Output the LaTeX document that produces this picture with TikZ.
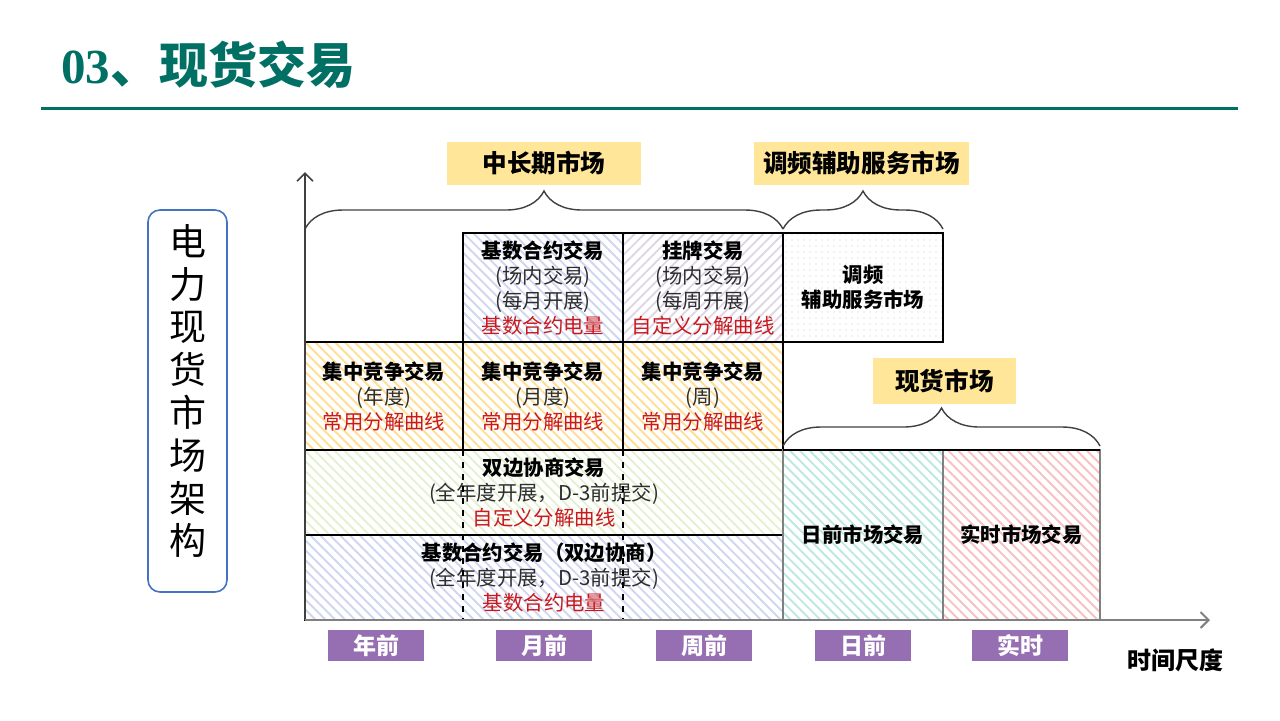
\documentclass[tikz,border=0pt]{standalone}
\usepackage{fontspec}
\setmainfont{Noto Sans CJK SC}
\newfontfamily\titleserif{Liberation Serif}
\usetikzlibrary{patterns.meta,decorations.pathreplacing,arrows.meta}
\definecolor{teal1}{RGB}{0,112,100}
\definecolor{lab}{RGB}{255,230,153}
\definecolor{purp}{RGB}{150,110,178}
\definecolor{redt}{RGB}{200,25,30}
\definecolor{subt}{RGB}{45,45,45}
\definecolor{hblue}{RGB}{206,214,242}
\definecolor{hlav}{RGB}{222,214,230}
\definecolor{horange}{RGB}{255,222,145}
\definecolor{hgreen}{RGB}{228,240,208}
\definecolor{hteal}{RGB}{188,232,222}
\definecolor{hpink}{RGB}{248,192,192}
\definecolor{hdot}{RGB}{195,195,195}
\definecolor{boxblue}{RGB}{68,114,196}
\definecolor{axisgrey}{RGB}{128,128,128}
\definecolor{bracegrey}{RGB}{64,64,64}
\begin{document}
\begin{tikzpicture}[x=0.5pt,y=-0.5pt,
  cell/.style={draw=black, line width=0.8pt, align=center, inner sep=0pt, outer sep=0pt,
    font=\fontsize{10.2pt}{12.5pt}\selectfont},
  hatch/.style 2 args={pattern={Lines[angle=#1,distance=3.5pt,line width=0.95pt]}, pattern color=#2},
  dotfill/.style={pattern={Dots[distance=3pt,radius=0.35pt]}, pattern color=hdot},
  lbl/.style={fill=lab, inner sep=0pt, font=\fontsize{12.3pt}{14pt}\selectfont\bfseries},
  pbox/.style={fill=purp, text=white, inner sep=0pt, minimum width=48pt, minimum height=15.5pt,
    font=\fontsize{11.5pt}{13pt}\selectfont\bfseries},
  bracestyle/.style={draw=bracegrey, line width=0.7pt, decorate, decoration={brace, amplitude=19pt}},
  axisline/.style={draw=axisgrey, line width=1pt, -{Straight Barb[length=4pt,width=8pt]}},
]
\useasboundingbox (0,0) rectangle (1280,720);

% title
\node[anchor=west, inner sep=0pt, text=teal1, font=\fontsize{24.5pt}{27pt}\selectfont\bfseries] (title) at (61,65)
  {{\titleserif 03}、现货交易};
\coordinate (rl) at (41,108);
\coordinate (rr) at (1238,108);
\draw[teal1, line width=1.5pt] (rl) -- (rr);

% left vertical box
\node[draw=boxblue, line width=0.8pt, rounded corners=6pt, minimum width=39.5pt, minimum height=191pt, inner sep=0pt] (vbox) at (187.5,401) {};
\node[align=center, inner sep=0pt, font=\fontsize{18.5pt}{21.4pt}\selectfont] (vtext) at (187.5,391)
  {电\\力\\现\\货\\市\\场\\架\\构};

% cells
\node[cell, hatch={-45}{hblue}, minimum width=80pt, minimum height=54.5pt] (c12) at (543,287.5)
  {{\bfseries 基数合约交易}\\{\color{subt}(场内交易)}\\{\color{subt}(每月开展)}\\{\color{redt}基数合约电量}};
\node[cell, hatch={45}{hlav}, minimum width=80pt, minimum height=54.5pt] (c13) at (703,287.5)
  {{\bfseries 挂牌交易}\\{\color{subt}(场内交易)}\\{\color{subt}(每周开展)}\\{\color{redt}自定义分解曲线}};
\node[cell, dotfill, minimum width=80pt, minimum height=54.5pt] (c14) at (863,287.5)
  {\bfseries 调频\\\bfseries 辅助服务市场};
\node[cell, hatch={-45}{horange}, minimum width=79pt, minimum height=54pt] (c21) at (384,396)
  {{\bfseries 集中竞争交易}\\{\color{subt}(年度)}\\{\color{redt}常用分解曲线}};
\node[cell, hatch={-45}{horange}, minimum width=80pt, minimum height=54pt] (c22) at (543,396)
  {{\bfseries 集中竞争交易}\\{\color{subt}(月度)}\\{\color{redt}常用分解曲线}};
\node[cell, hatch={-45}{horange}, minimum width=80pt, minimum height=54pt] (c23) at (703,396)
  {{\bfseries 集中竞争交易}\\{\color{subt}(周)}\\{\color{redt}常用分解曲线}};
\node[cell, hatch={-45}{hgreen}, minimum width=239pt, minimum height=42.5pt] (c3) at (544,492.5)
  {{\bfseries 双边协商交易}\\{\color{subt}(全年度开展，D-3前提交)}\\{\color{redt}自定义分解曲线}};
\node[cell, hatch={-45}{hblue}, minimum width=239pt, minimum height=42.5pt] (c4) at (544,577.5)
  {{\bfseries 基数合约交易（双边协商）}\\{\color{subt}(全年度开展，D-3前提交)}\\{\color{redt}基数合约电量}};
\node[cell, draw=axisgrey, hatch={-45}{hteal}, minimum width=80pt, minimum height=85pt] (c5) at (863,535)
  {\bfseries 日前市场交易};
\node[cell, draw=axisgrey, hatch={-45}{hpink}, minimum width=78.5pt, minimum height=85pt] (c6) at (1021.5,535)
  {\bfseries 实时市场交易};
\draw[black, line width=0.8pt] (c5.north west) -- (c6.north east);

% dashed separators
\coordinate (d1t) at (463,450); \coordinate (d1b) at (463,620);
\coordinate (d2t) at (623,450); \coordinate (d2b) at (623,620);
\draw[black, line width=0.7pt, dashed] (d1t) -- (d1b);
\draw[black, line width=0.7pt, dashed] (d2t) -- (d2b);

% axes
\coordinate (o) at (305,620);
\coordinate (ytop) at (305,172);
\coordinate (xend) at (1210,620);
\draw[axisline, draw=bracegrey, line width=0.8pt] (o) -- (ytop);
\draw[axisline] (o) -- (xend);

% braces
\coordinate (b1a) at (305,229); \coordinate (b1b) at (783,229);
\coordinate (b2a) at (783,229); \coordinate (b2b) at (943,229);
\coordinate (b3a) at (783,446); \coordinate (b3b) at (1100,446);
\draw[bracestyle] (b1a) -- (b1b);
\draw[bracestyle] (b2a) -- (b2b);
\draw[bracestyle] (b3a) -- (b3b);

% labels
\node[lbl, minimum width=97pt, minimum height=21.5pt] (l1) at (544,163.5) {中长期市场};
\node[lbl, minimum width=107.5pt, minimum height=21.5pt] (l2) at (861.5,163.5) {调频辅助服务市场};
\node[lbl, minimum width=71.5pt, minimum height=23pt] (l3) at (944.5,381) {现货市场};

% time labels
\node[pbox] (p1) at (376,645.5) {年前};
\node[pbox] (p2) at (544,645.5) {月前};
\node[pbox] (p3) at (704,645.5) {周前};
\node[pbox] (p4) at (863,645.5) {日前};
\node[pbox] (p5) at (1020,645.5) {实时};
\node[inner sep=0pt, font=\fontsize{12pt}{14pt}\selectfont\bfseries] (ts) at (1175,660) {时间尺度};
\end{tikzpicture}
\end{document}
